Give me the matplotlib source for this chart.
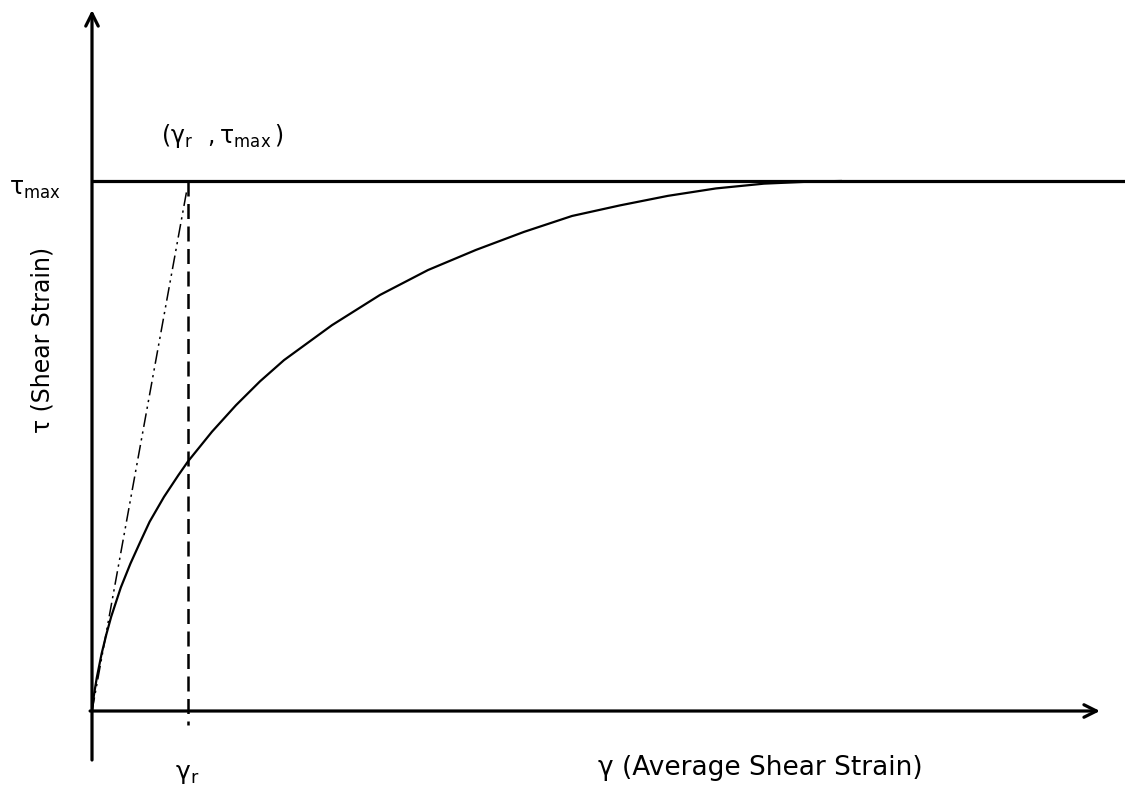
import matplotlib.pyplot as plt
import numpy as np

plt.rcParams['mathtext.fontset'] = 'dejavusans'

# stress-strain curve (gamma in units of gamma_r, tau in units of tau_max)
gamma = [0.0, 0.02, 0.05, 0.1, 0.15, 0.2, 0.3, 0.4, 0.5, 0.6,
         0.75, 0.9, 1.0, 1.25, 1.5, 1.75, 2.0, 2.5, 3.0, 3.5,
         4.0, 4.5, 5.0, 5.5, 6.0, 6.5, 7.0, 7.5, 7.8]
tau = [0.0, 0.030, 0.063, 0.108, 0.145, 0.178, 0.233, 0.278, 0.318, 0.357,
       0.404, 0.445, 0.471, 0.527, 0.577, 0.622, 0.662, 0.728, 0.785, 0.832,
       0.870, 0.904, 0.934, 0.954, 0.972, 0.986, 0.995, 0.999, 1.0]

gamma_r = 1.0
tau_max = 1.0
secant_x = [0.0, 0.99]
secant_y = [0.0, 0.985]

fig = plt.figure(figsize=(11.25, 7.93), dpi=100)
ax = fig.add_axes([0, 0, 1, 1])
ax.set_xlim(-92 / 96, 1033 / 96)
ax.set_ylim(-82 / 530, 711 / 530)
ax.axis('off')

# axes with open arrowheads
arrow = dict(arrowstyle='->,head_length=0.9,head_width=0.45', lw=2.3, color='black',
             shrinkA=0, shrinkB=0)
ax.annotate('', xy=(10.5, 0), xytext=(-0.02, 0), arrowprops=arrow)
ax.annotate('', xy=(0, 1.3226), xytext=(0, -0.0925), arrowprops=arrow)

# tau_max level
ax.plot([0, 11], [tau_max, tau_max], color='black', lw=2.3, solid_capstyle='butt')

# curve
ax.plot(gamma, tau, color='black', lw=1.6, solid_joinstyle='round')

# secant line and gamma_r marker
ax.plot(secant_x, secant_y, color='black', lw=1.1, dashes=(9, 3, 1.5, 3, 1.5, 3))
ax.plot([gamma_r, gamma_r], [tau_max, -0.026], color='black', lw=1.8, dashes=(6, 3))

# labels
ax.text(-0.86, tau_max - 0.015, r'$\mathrm{τ}_{\mathrm{max}}$', fontsize=17,
        ha='left', va='center')
ax.text(0.72, 1.085, r'$(\mathrm{γ}_{\mathrm{r}}\ \ ,\mathrm{τ}_{\mathrm{max}}\,)$', fontsize=17,
        ha='left', va='center')
ax.text(-0.52, 0.70, 'τ (Shear Strain)', fontsize=17, rotation=90,
        ha='center', va='center')
ax.text(gamma_r - 0.01, -0.118, r'$\mathrm{γ}_{\mathrm{r}}$', fontsize=18,
        ha='center', va='center')
ax.text(5.27, -0.108, 'γ (Average Shear Strain)', fontsize=19,
        ha='left', va='center')

fig.savefig('out.png', dpi=100)
